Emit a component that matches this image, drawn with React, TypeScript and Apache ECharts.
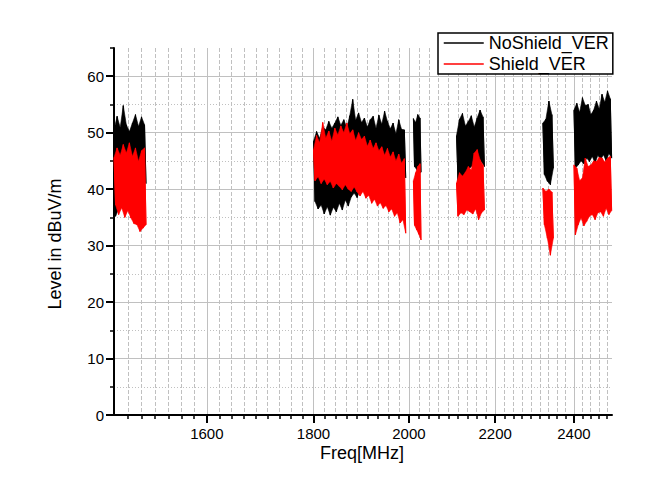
import React, { useEffect, useRef } from 'react';
import * as echarts from 'echarts';

// Frequency sweep bands (MHz) where measurement traces exist
const bandStart = [1444, 1800, 2010, 2108, 2319, 2400];
const bandEnd = [1496, 1993, 2027, 2174, 2346, 2502];

// NoShield_VER trace values (dBuV/m), per band, in sweep order (alternating peaks / troughs)
const noShieldBand1 = [50.5, 35.2, 52.9, 36.5, 50.9, 38.0, 54.8, 39.5, 51.4, 41.0, 50.2, 40.2, 51.7, 42.0, 53.2, 41.5, 51.1, 43.0, 52.8, 42.0, 51.4, 41.0];
const noShieldBand2 = [48.5, 37.8, 50.2, 36.5, 49.0, 37.2, 51.0, 35.6, 50.5, 36.9, 52.0, 35.4, 50.8, 36.8, 51.7, 36.0, 52.8, 37.5, 51.3, 36.3, 52.3, 38.1, 50.9, 37.0, 53.0, 38.6, 55.9, 39.3, 52.2, 38.5, 53.5, 39.9, 51.8, 40.5, 52.6, 40.0, 51.0, 41.2, 52.3, 40.8, 52.9, 42.0, 50.8, 41.5, 53.1, 42.6, 51.5, 42.0, 53.8, 43.0, 52.0, 42.2, 50.7, 43.5, 51.7, 42.8, 49.8, 43.8, 52.3, 42.5, 50.6, 43.2, 50.5, 42.0];
const noShieldBand3 = [52.5, 44.0, 51.8, 43.5, 53.2, 42.8, 52.6, 43.0];
const noShieldBand4 = [49.5, 41.5, 52.4, 42.5, 53.4, 42.0, 51.2, 43.2, 52.0, 43.8, 53.0, 44.2, 51.0, 45.0, 52.6, 45.5, 54.0, 44.8, 52.8, 44.0];
const noShieldBand5 = [51.7, 42.6, 52.4, 41.4, 55.6, 40.8, 53.2, 43.7];
const noShieldBand6 = [54.0, 43.7, 55.2, 44.3, 53.6, 45.0, 56.2, 44.5, 54.8, 45.5, 55.0, 44.9, 53.2, 45.8, 54.0, 44.6, 55.6, 46.0, 54.2, 45.2, 56.8, 46.1, 55.4, 45.0, 57.4, 46.3, 56.0, 45.5];

// Shield_VER trace values (dBuV/m), per band, in sweep order (alternating peaks / troughs)
const shieldBand1 = [45.6, 37.2, 47.3, 35.5, 46.0, 36.7, 47.9, 35.0, 46.4, 36.2, 48.2, 34.9, 45.8, 33.9, 47.3, 33.7, 44.9, 32.5, 46.8, 33.1, 47.3, 33.7];
const shieldBand2 = [47.0, 41.5, 49.5, 42.2, 48.2, 41.0, 51.8, 41.8, 49.0, 40.8, 50.3, 41.4, 48.5, 40.2, 50.8, 41.0, 49.6, 40.5, 51.2, 39.9, 50.0, 40.8, 51.7, 40.0, 49.8, 39.6, 50.5, 40.4, 48.6, 39.5, 50.0, 38.8, 48.8, 39.6, 49.4, 38.4, 47.6, 38.9, 48.7, 37.5, 47.2, 38.2, 48.2, 37.0, 46.8, 37.6, 47.5, 36.6, 46.0, 37.1, 47.2, 36.0, 45.7, 36.5, 46.6, 35.2, 45.0, 35.8, 46.2, 34.0, 44.6, 34.6, 45.4, 32.2];
const shieldBand3 = [41.5, 33.6, 42.9, 32.8, 44.0, 32.0, 44.5, 31.0];
const shieldBand4 = [41.1, 35.2, 42.9, 35.8, 42.3, 35.5, 43.0, 36.3, 44.0, 36.0, 43.4, 35.6, 46.4, 36.5, 47.0, 34.6, 45.2, 35.8, 44.3, 36.3];
const shieldBand5 = [40.2, 33.7, 39.6, 31.3, 40.0, 28.3, 39.5, 31.3];
const shieldBand6 = [44.3, 31.9, 43.7, 33.7, 41.5, 34.9, 42.0, 33.5, 45.5, 34.3, 44.0, 35.2, 44.3, 35.5, 45.0, 34.6, 44.9, 35.8, 45.6, 36.0, 45.5, 35.2, 44.8, 36.6, 45.5, 35.5, 45.8, 36.2];

const noShield = [noShieldBand1, noShieldBand2, noShieldBand3, noShieldBand4, noShieldBand5, noShieldBand6];
const shield = [shieldBand1, shieldBand2, shieldBand3, shieldBand4, shieldBand5, shieldBand6];

// Axes
const xMin = 1444;
const xMax = 2503;
const xMajorTicks = [1600, 1800, 2000, 2200, 2400];
const xMinorPerMajor = 9;
const yMin = 0;
const yMax = 65;
const yMajorTicks = [0, 10, 20, 30, 40, 50, 60];
const yMinorTicks = [5, 15, 25, 35, 45, 55, 65];

const FONT = "'Liberation Sans', Arial, sans-serif";
const BLACK = '#000000';
const RED = '#ff0000';

function sweepFreq(b: number, i: number, n: number) {
  const f0 = bandStart[b];
  const f1 = bandEnd[b];
  return f0 + (i * (f1 - f0)) / (n - 1);
}

function buildTrace(bands: number[][]) {
  const out: any[] = [];
  bands.forEach((vals, b) => {
    vals.forEach((v, i) => {
      out.push([Math.log(sweepFreq(b, i, vals.length)), v]);
    });
    if (b < bands.length - 1) {
      out.push([Math.log((bandEnd[b] + bandStart[b + 1]) / 2), '-']);
    }
  });
  return out;
}

function bandItems() {
  return bandStart.map((f, b) => [Math.log(f), b]);
}

function makeEnvelopeRenderer(bands: number[][], color: string) {
  return (params: any, api: any) => {
    const b = api.value(1);
    const vals = bands[b];
    const top: number[][] = [];
    const bot: number[][] = [];
    vals.forEach((v, i) => {
      const p = api.coord([Math.log(sweepFreq(b, i, vals.length)), v]);
      if (i % 2 === 0) top.push(p);
      else bot.push(p);
    });
    const pts = top.concat(bot.reverse());
    return {
      type: 'polygon',
      shape: { points: pts },
      style: { fill: color, stroke: color, lineWidth: 0.6 },
    };
  };
}

function minorXTicks() {
  const step = (xMajorTicks[1] - xMajorTicks[0]) / xMinorPerMajor;
  const res: number[] = [];
  for (let k = -20; k < 60; k++) {
    const f = xMajorTicks[0] + k * step;
    if (f <= xMin + 1 || f >= xMax - 1) continue;
    if (xMajorTicks.some((m) => Math.abs(m - f) < 1)) continue;
    res.push(Math.log(f));
  }
  return res;
}

export default function App() {
  const ref = useRef<HTMLDivElement>(null);
  useEffect(() => {
    if (!ref.current) return;
    const chart = echarts.init(ref.current, undefined, { renderer: 'svg' });
    const lnMin = Math.log(xMin);
    const lnMax = Math.log(xMax);
    const option: any = {
      animation: false,
      backgroundColor: '#ffffff',
      grid: { left: 114, right: 38, top: 48, bottom: 66, containLabel: false },
      xAxis: [
        {
          type: 'value',
          min: lnMin,
          max: lnMax,
          position: 'bottom',
          axisLine: { show: true, onZero: false, lineStyle: { color: '#000', width: 2 } },
          axisTick: { show: true, customValues: xMajorTicks.map(Math.log), length: 8, lineStyle: { color: '#000', width: 2 } },
          axisLabel: {
            customValues: xMajorTicks.map(Math.log),
            formatter: (v: number) => String(Math.round(Math.exp(v))),
            color: '#000',
            fontSize: 15,
            fontFamily: FONT,
            margin: 11,
          },
          splitLine: { show: true, lineStyle: { color: '#c0c0c0', width: 1 } },
        },
        {
          type: 'value',
          min: lnMin,
          max: lnMax,
          position: 'bottom',
          axisLine: { show: false, onZero: false },
          axisTick: { show: true, customValues: minorXTicks(), length: 4, lineStyle: { color: '#000', width: 1.5 } },
          axisLabel: { show: false },
          splitLine: { show: true, lineStyle: { color: '#c0c0c0', width: 1, type: [4, 2] } },
        },
      ],
      yAxis: [
        {
          type: 'value',
          min: yMin,
          max: yMax,
          position: 'left',
          axisLine: { show: true, onZero: false, lineStyle: { color: '#000', width: 2 } },
          axisTick: { show: true, customValues: yMajorTicks, length: 8, lineStyle: { color: '#000', width: 2 } },
          axisLabel: { customValues: yMajorTicks, color: '#000', fontSize: 15, fontFamily: FONT, margin: 10 },
          splitLine: { show: true, lineStyle: { color: '#c0c0c0', width: 1 } },
        },
        {
          type: 'value',
          min: yMin,
          max: yMax,
          position: 'left',
          axisLine: { show: false, onZero: false },
          axisTick: { show: true, customValues: yMinorTicks, length: 4, lineStyle: { color: '#000', width: 1.5 } },
          axisLabel: { show: false },
          splitLine: { show: true, showMaxLine: false, lineStyle: { color: '#c0c0c0', width: 1, type: [1, 2] } },
        },
      ],
      legend: {
        left: 438,
        top: 33,
        orient: 'vertical',
        backgroundColor: '#ffffff',
        borderColor: '#000',
        borderWidth: 1.5,
        borderRadius: 0,
        padding: [1, 4, 1, 5],
        itemGap: 3,
        itemWidth: 40,
        itemHeight: 14,
        itemStyle: { opacity: 0 },
        lineStyle: { width: 1.5 },
        textStyle: { color: '#000', fontSize: 18, fontFamily: FONT },
        data: ['NoShield_VER', 'Shield_VER'],
      },
      graphic: [
        {
          type: 'text',
          x: 55,
          y: 244,
          rotation: Math.PI / 2,
          style: { text: 'Level in dBuV/m', fill: '#000', fontSize: 18, fontFamily: FONT, align: 'center', verticalAlign: 'middle' },
        },
        {
          type: 'text',
          x: 362,
          y: 453,
          style: { text: 'Freq[MHz]', fill: '#000', fontSize: 18, fontFamily: FONT, align: 'center', verticalAlign: 'middle' },
        },
      ],
      series: [
        {
          name: 'NoShield_VER',
          type: 'line',
          xAxisIndex: 0,
          yAxisIndex: 0,
          data: buildTrace(noShield),
          showSymbol: false,
          symbol: 'none',
          connectNulls: false,
          color: BLACK,
          lineStyle: { color: BLACK, width: 1 },
          z: 3,
        },
        {
          name: 'NoShield_VER body',
          type: 'custom',
          xAxisIndex: 0,
          yAxisIndex: 0,
          data: bandItems(),
          color: BLACK,
          renderItem: makeEnvelopeRenderer(noShield, BLACK),
          z: 3,
        },
        {
          name: 'Shield_VER',
          type: 'line',
          xAxisIndex: 0,
          yAxisIndex: 0,
          data: buildTrace(shield),
          showSymbol: false,
          symbol: 'none',
          connectNulls: false,
          color: RED,
          lineStyle: { color: RED, width: 1 },
          z: 4,
        },
        {
          name: 'Shield_VER body',
          type: 'custom',
          xAxisIndex: 0,
          yAxisIndex: 0,
          data: bandItems(),
          color: RED,
          renderItem: makeEnvelopeRenderer(shield, RED),
          z: 4,
        },
      ],
    };
    chart.setOption(option);
    return () => chart.dispose();
  }, []);
  return <div ref={ref} style={{ position: 'absolute', left: 0, top: 0, width: 650, height: 481 }} />;
}
